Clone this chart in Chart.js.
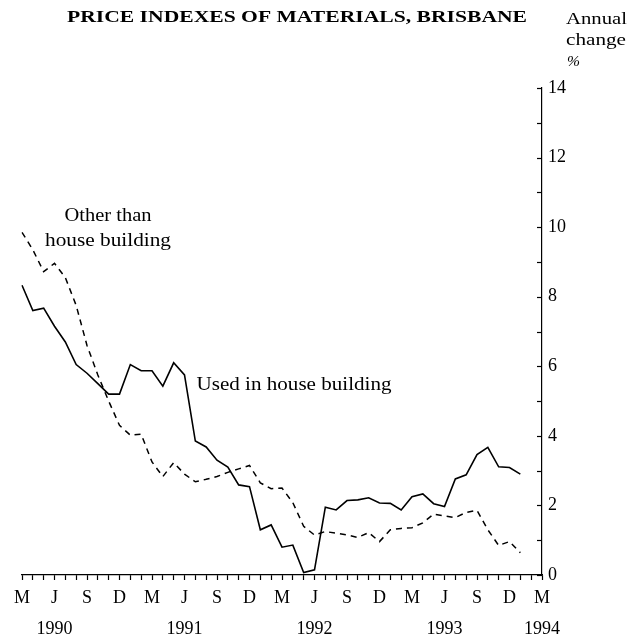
<!DOCTYPE html>
<html>
<head>
<meta charset="utf-8">
<script src="https://cdn.jsdelivr.net/npm/chart.js@4/dist/chart.umd.min.js"></script>
<style>
html,body{margin:0;padding:0;background:#fff;}
#wrap{width:635px;height:634px;position:relative;}
</style>
</head>
<body>
<div id="wrap"><canvas id="c" width="635" height="634"></canvas></div>
<script>
// ---- DATA ----
const months = [
 'Mar 1990','Apr 1990','May 1990','Jun 1990','Jul 1990','Aug 1990','Sep 1990','Oct 1990','Nov 1990','Dec 1990','Jan 1991','Feb 1991',
 'Mar 1991','Apr 1991','May 1991','Jun 1991','Jul 1991','Aug 1991','Sep 1991','Oct 1991','Nov 1991','Dec 1991','Jan 1992','Feb 1992',
 'Mar 1992','Apr 1992','May 1992','Jun 1992','Jul 1992','Aug 1992','Sep 1992','Oct 1992','Nov 1992','Dec 1992','Jan 1993','Feb 1993',
 'Mar 1993','Apr 1993','May 1993','Jun 1993','Jul 1993','Aug 1993','Sep 1993','Oct 1993','Nov 1993','Dec 1993','Jan 1994','Feb 1994',
 'Mar 1994'
];
const quarterLetters = ['M','J','S','D'];
const yearTickMonths = ['Jun 1990','Jun 1991','Jun 1992','Jun 1993','Mar 1994'];
const yearTickLabels = ['1990','1991','1992','1993','1994'];

const usedInHouseBuilding = [
 8.33, 7.60, 7.67, 7.15, 6.70, 6.05, 5.80, 5.50, 5.20, 5.20, 6.05, 5.87,
 5.87, 5.43, 6.10, 5.75, 3.85, 3.68, 3.30, 3.10, 2.59, 2.54, 1.30, 1.44,
 0.80, 0.86, 0.07, 0.15, 1.95, 1.87, 2.14, 2.16, 2.22, 2.07, 2.06, 1.87,
 2.25, 2.33, 2.05, 1.97, 2.76, 2.88, 3.46, 3.67, 3.11, 3.09, 2.90
];
const otherThanHouseBuilding = [
 9.85, 9.35, 8.72, 8.96, 8.55, 7.75, 6.60, 5.75, 5.00, 4.30, 4.02, 4.05,
 3.25, 2.83, 3.23, 2.90, 2.68, 2.75, 2.83, 2.95, 3.05, 3.15, 2.65, 2.48,
 2.50, 2.08, 1.40, 1.15, 1.25, 1.20, 1.15, 1.08, 1.22, 0.96, 1.30, 1.34,
 1.36, 1.50, 1.75, 1.70, 1.65, 1.80, 1.86, 1.30, 0.85, 0.96, 0.64
];
const yMin = 0, yMax = 14;

// ---- TEXT ----
const titleText = 'PRICE INDEXES OF MATERIALS, BRISBANE';
const unitLines = ['Annual','change','%'];
const seriesNotes = [
  {lines:['Other than','house building'], x:108, y:216, widths:[87,126]},
  {lines:['Used in house building'], x:294, y:385, widths:[195]}
];

const SERIF = '"Liberation Serif","DejaVu Serif",serif';

// draw text horizontally stretched to a target width, centred on cx
function drawStretched(ctx, text, cx, cy, font, targetW){
  ctx.save();
  ctx.font = font;
  const w = ctx.measureText(text).width;
  const sx = targetW ? targetW / w : 1;
  ctx.translate(cx, cy);
  ctx.scale(sx, 1);
  ctx.textAlign = 'center';
  ctx.textBaseline = 'middle';
  ctx.fillStyle = '#000';
  ctx.fillText(text, 0, 0);
  ctx.restore();
}
function drawStretchedLeft(ctx, text, x, cy, font, targetW){
  ctx.save();
  ctx.font = font;
  const w = ctx.measureText(text).width;
  const sx = targetW ? targetW / w : 1;
  ctx.translate(x, cy);
  ctx.scale(sx, 1);
  ctx.textAlign = 'left';
  ctx.textBaseline = 'middle';
  ctx.fillStyle = '#000';
  ctx.fillText(text, 0, 0);
  ctx.restore();
}

const decor = {
  id: 'decor',
  afterDraw(chart){
    const ctx = chart.ctx;
    const ys = chart.scales.y;
    const area = chart.chartArea;
    // y tick marks drawn inward (left of the axis)
    ctx.save();
    ctx.strokeStyle = '#000';
    ctx.lineWidth = 1.2;
    for (let v = yMin; v <= yMax; v++){
      const py = Math.round(ys.getPixelForValue(v)) + 0.5;
      ctx.beginPath();
      ctx.moveTo(area.right - 5, py);
      ctx.lineTo(area.right, py);
      ctx.stroke();
    }
    ctx.restore();
    // title
    drawStretched(ctx, titleText, 297, 18, 'bold 17px ' + SERIF, 460);
    // unit label
    drawStretchedLeft(ctx, unitLines[0], 566, 20, '16px ' + SERIF, 61);
    drawStretchedLeft(ctx, unitLines[1], 566, 41, '16px ' + SERIF, 60);
    drawStretchedLeft(ctx, unitLines[2], 567, 62, 'italic 15px ' + SERIF, 13);
    // series notes
    seriesNotes.forEach(n => {
      n.lines.forEach((t, i) => {
        drawStretched(ctx, t, n.x, n.y + i * 25, '18px ' + SERIF, n.widths[i]);
      });
    });
  }
};

new Chart(document.getElementById('c'), {
  type: 'line',
  data: {
    labels: months,
    datasets: [
      {label:'Used in house building', data: usedInHouseBuilding, borderColor:'#000', borderWidth:1.6, pointRadius:0, tension:0, fill:false},
      {label:'Other than house building', data: otherThanHouseBuilding, borderColor:'#000', borderWidth:1.5, borderDash:[6,5], pointRadius:0, tension:0, fill:false}
    ]
  },
  options: {
    responsive: false,
    animation: false,
    devicePixelRatio: 1,
    layout: {padding: {left: 22, right: 0, top: 88, bottom: 0}},
    plugins: {legend:{display:false}, title:{display:false}, tooltip:{enabled:false}},
    scales: {
      x: {
        type: 'category',
        offset: false,
        afterFit(s){ s.height = 59; },
        grid: {display:true, drawOnChartArea:false, drawTicks:true, tickLength:5, color:'#000', tickColor:'#000', tickWidth:1.2},
        border: {display:true, color:'#000', width:1.2},
        ticks: {
          autoSkip:false, maxRotation:0, minRotation:0, padding:3,
          color:'#000',
          font: {family: SERIF, size: 18, lineHeight: 1.72},
          callback(val, idx){
            if (idx % 3 !== 0) return '';
            const m = quarterLetters[(idx / 3) % 4];
            const yi = yearTickMonths.indexOf(months[idx]);
            return [m, yi >= 0 ? yearTickLabels[yi] : ''];
          }
        }
      },
      y: {
        position: 'right',
        min: yMin, max: yMax,
        afterFit(s){ s.width = 93; },
        grid: {display:true, drawOnChartArea:false, drawTicks:false},
        border: {display:true, color:'#000', width:1.2},
        ticks: {
          stepSize: 1, padding: 6, color:'#000',
          font: {family: SERIF, size: 18},
          callback(v){ return v % 2 === 0 ? String(v) : ''; }
        }
      }
    }
  },
  plugins: [decor]
});
</script>
</body>
</html>
